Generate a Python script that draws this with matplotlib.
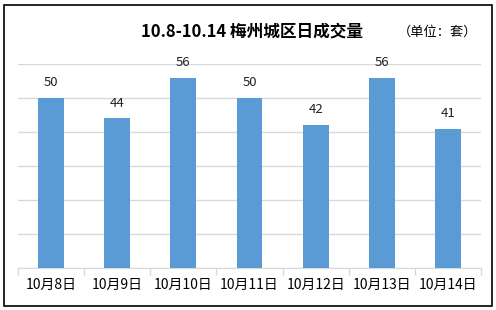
import matplotlib
matplotlib.use("Agg")
import matplotlib.pyplot as plt
from matplotlib.patches import Rectangle

plt.rcParams['font.family'] = ['Noto Sans CJK SC', 'DejaVu Sans']

categories = ["10月8日", "10月9日", "10月10日", "10月11日", "10月12日", "10月13日", "10月14日"]
values = [50, 44, 56, 50, 42, 56, 41]
title = "10.8-10.14 梅州城区日成交量"
unit = "（单位：套）"

W, H = 496, 310
fig = plt.figure(figsize=(W/100, H/100), dpi=100)
fig.patch.set_facecolor("white")
fig.patches.append(Rectangle((3.5/W, 4.5/H), (492-3.5)/W, (305.5-4.5)/H, transform=fig.transFigure,
                             fill=False, edgecolor="black", linewidth=1.2))

ax = fig.add_axes([18/W, 1-268/H, (481-18)/W, (268-64)/H])
x = range(len(categories))
bars = ax.bar(x, values, width=0.39, color="#5B9BD5", zorder=3)
ax.set_ylim(0, 60)
ax.set_xlim(-0.5, len(categories)-0.5)
ax.set_yticks(range(0, 61, 10))
ax.yaxis.grid(True, color="#D9D9D9", linewidth=1, zorder=0)
ax.tick_params(axis='y', left=False, labelleft=False)
for s in ["top", "right", "left"]:
    ax.spines[s].set_visible(False)
ax.spines["bottom"].set_color("#D9D9D9")
ax.set_xticks([i - 0.5 for i in range(len(categories)+1)], minor=False)
ax.set_xticklabels([])
ax.tick_params(axis='x', length=5, color="#D9D9D9", width=1)
ax.set_xticks(list(x), minor=True)
ax.set_xticklabels(categories, minor=True, fontsize=10, color="#000000")
ax.tick_params(axis='x', which='minor', length=0, pad=7)
for xi, v in zip(x, values):
    ax.text(xi, v + 2.6, str(v), ha="center", va="bottom", fontsize=9.5, color="#222222")

fig.text(252/W, 1-31/H, title, ha="center", va="center", fontsize=12, fontweight="bold")
fig.text(438/W, 1-32/H, unit, ha="center", va="center", fontsize=9.5)

fig.savefig("out.png", dpi=100)
